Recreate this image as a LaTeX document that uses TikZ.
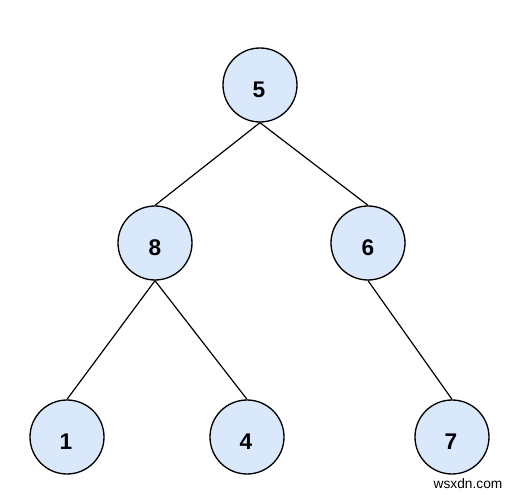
\documentclass[tikz,border=0pt]{standalone}
\usepackage{fontspec}
\setmainfont{Liberation Sans}
\definecolor{nodefill}{RGB}{218,232,252}
\tikzset{
  treenode/.style={circle,draw=black,fill=nodefill,line width=1pt,minimum size=55.5pt,inner sep=0pt},
  digit/.style={font=\fontsize{17}{19}\selectfont\bfseries,inner sep=0pt},
  edge/.style={draw=black,line width=0.9pt},
  wm/.style={font=\fontsize{10.3}{12}\selectfont,inner sep=0pt}
}
\begin{document}
\begin{tikzpicture}[x=0.75pt,y=-0.75pt]
\useasboundingbox (0,0) rectangle (511,495);
\node[treenode] (n5) at (260,85) {};
\node[treenode] (n8) at (155,243) {};
\node[treenode] (n6) at (368,243) {};
\node[treenode] (n1) at (67,437) {};
\node[treenode] (n4) at (247,437) {};
\node[treenode] (n7) at (452,437) {};
\node[digit] (t5) at (259,90) {5};
\node[digit] (t8) at (155,248) {8};
\node[digit] (t6) at (368,248) {6};
\node[digit] (t1) at (66,442) {1};
\node[digit] (t4) at (246,442) {4};
\node[digit] (t7) at (451,442) {7};
\draw[edge] (n5.south) -- (n8.north);
\draw[edge] (n5.south) -- (n6.north);
\draw[edge] (n8.south) -- (n1.north);
\draw[edge] (n8.south) -- (n4.north);
\draw[edge] (n6.south) -- (n7.north);
\node[wm] (wm) at (468,484) {wsxdn.com};
\end{tikzpicture}
\end{document}
